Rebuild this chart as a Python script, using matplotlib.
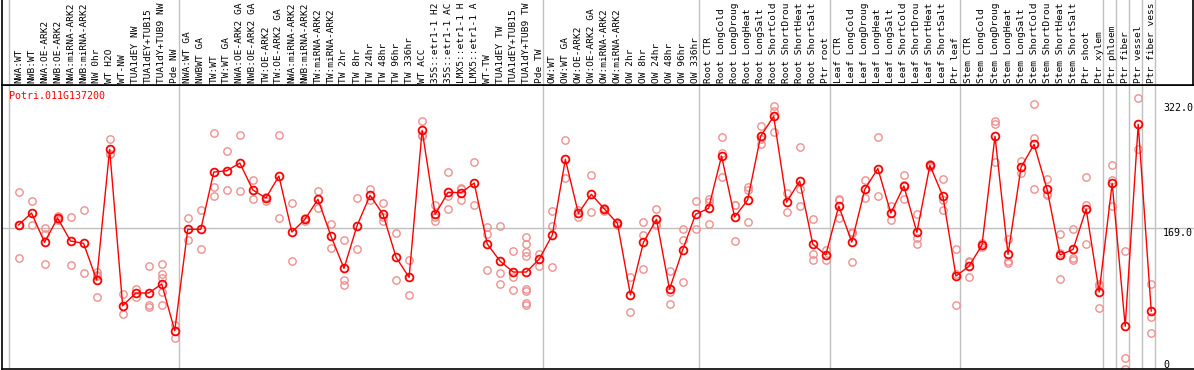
import matplotlib
matplotlib.use("Agg")
import matplotlib.pyplot as plt

gene = "Potri.011G137200"

labels = [
    "NWA:WT", "NWB:WT", "NWA:OE-ARK2", "NWB:OE-ARK2", "NWA:miRNA-ARK2", "NWB:miRNA-ARK2",
    "NW 0hr", "WT H2O", "WT-NW", "TUA1dEY NW", "TUA1dEY+TUB15", "TUA1dY+TUB9 NW", "Pde NW",
    "NWA:WT GA", "NWBWT GA", "TW:WT", "TW:WT GA", "NWA:OE-ARK2 GA", "NWB:OE-ARK2 GA",
    "TW:OE-ARK2", "TW:OE-ARK2 GA", "NWA:miRNA-ARK2", "NWB:miRNA-ARK2", "TW:miRNA-ARK2",
    "TW:miRNA-ARK2", "TW 2hr", "TW 8hr", "TW 24hr", "TW 48hr", "TW 96hr", "TW 336hr",
    "WT ACC", "35S::etr1-1 H2", "35S::etr1-1 AC", "LMX5::etr1-1 H", "LMX5::etr1-1 A",
    "WT-TW", "TUA1dEY TW", "TUA1dEY+TUB15", "TUA1dY+TUB9 TW", "Pde TW",
    "OW:WT", "OW:WT GA", "OW:OE-ARK2", "OW:OE-ARK2 GA", "OW:miRNA-ARK2", "OW:miRNA-ARK2",
    "OW 2hr", "OW 8hr", "OW 24hr", "OW 48hr", "OW 96hr", "OW 336hr",
    "Root CTR", "Root LongCold", "Root LongDroug", "Root LongHeat", "Root LongSalt",
    "Root ShortCold", "Root ShortDrou", "Root ShortHeat", "Root ShortSalt", "Ptr root",
    "Leaf CTR", "Leaf LongCold", "Leaf LongDroug", "Leaf LongHeat", "Leaf LongSalt",
    "Leaf ShortCold", "Leaf ShortDrou", "Leaf ShortHeat", "Leaf ShortSalt", "Ptr leaf",
    "Stem CTR", "Stem LongCold", "Stem LongDroug", "Stem LongHeat", "Stem LongSalt",
    "Stem ShortCold", "Stem ShortDrou", "Stem ShortHeat", "Stem ShortSalt", "Ptr shoot",
    "Ptr xylem", "Ptr phloem", "Ptr fiber", "Ptr vessel", "Ptr fiber vess",
]

means = [
    172.7, 187.3, 151.6, 181.2, 153.1, 150.3, 105.6, 265.0, 74.2, 89.7, 89.7, 100.7, 43.7,
    167.4, 167.4, 237.3, 238.9, 248.3, 215.4, 205.6, 232.4, 164.1, 179.6, 204.0, 159.2,
    119.8, 171.8, 208.9, 185.7, 133.3, 108.8, 288.2, 185.7, 212.6, 212.1, 223.9, 149.5,
    128.4, 115.3, 115.3, 131.2,
    160.5, 252.8, 186.9, 210.1, 192.2, 174.7, 87.3, 151.6, 179.6, 94.2, 141.8, 185.7,
    193.0, 256.8, 182.4, 203.2, 280.9, 305.3, 200.7, 226.3, 149.5, 136.1,
    195.8, 151.9, 216.2, 241.6, 187.3, 220.2, 163.8, 245.5, 207.7, 110.4,
    122.3, 148.3, 280.9, 136.9, 243.1, 271.1, 216.2, 136.1, 143.0, 192.2,
    90.9, 223.5, 49.1, 295.5, 67.7,
]

reps = [
    [212.6, 172.7, 132.0], [201.9, 172.7], [169.4, 161.7, 125.1], [184, 180, 179],
    [182.4, 123.9], [191.0, 114.1], [115.7, 111.7, 110, 84.4], [277.2, 258.9, 259],
    [88.5, 64.1], [94.9, 84.4], [122.6, 75.1, 72.2], [125.1, 112.9, 108.4, 91.3, 75.1],
    [50.7, 34.4],
    [180.8, 154.4], [191.0, 143.0], [284.5, 218.7, 207.7], [263.0, 215.4], [282.1, 213.8],
    [227.6, 204.4], [207.2, 202.3], [282.1, 181.2], [199.9, 128.4], [181, 178],
    [214.1, 193.0], [173.5, 144.2], [154.0, 105.6, 99.5], [205.6, 143.4], [216.6, 203.2],
    [199.1, 182.4, 177.5], [162.5, 105.6], [130.0, 87.3], [299.2, 281.6, 283],
    [197.1, 182.5, 177.5], [237.3, 208, 192.2], [218, 216.6, 203.2], [249.5, 196.7],
    [170.6, 161.7, 117.4], [171.4, 114.1, 100.7], [140.6, 109.6, 93.4],
    [158.0, 149.1, 139.4, 135.2, 94.2, 92, 77.1, 75.5], [137.3, 123.0],
    [189.7, 171.4, 121.4], [276.0, 229.6], [191.0, 182.8], [233.7, 188.2], [194, 190],
    [176, 173], [108.8, 66.1], [176.0, 160.5, 118.6], [192.2, 174, 172.7],
    [116.2, 90.5, 75.9], [167.4, 154.0, 102.7], [201.6, 168.1],
    [204.0, 201.0, 173.5], [279.7, 260.9, 230.9], [197.1, 197, 152.8], [219.4, 215.4, 176.0],
    [293.4, 278, 271.5], [317.8, 312.1, 286.5], [211.3, 188.2], [267.8, 216.6, 195.8],
    [180.0, 137.3, 130.0], [142.2, 130.0],
    [204.0, 203, 180.8], [164.5, 163, 127.5], [227.6, 206.0], [279.7, 208.0], [195.8, 178.4],
    [233.7, 222, 204.4], [186.1, 156.4, 149.5], [247.1, 245, 244], [228.4, 203.7, 191.0],
    [143.0, 113, 75.1],
    [129.1, 128, 109.2], [151.1, 145.5], [299.5, 295.5, 249.9], [155.6, 129.1, 125.9],
    [250.7, 235.7], [320.3, 278.4, 216.2], [228.4, 211, 209.3], [161.3, 138.1, 106.4],
    [167.4, 132.0, 129.6], [230.9, 197.1, 149.5],
    [100.7, 98, 71.0], [245.5, 227.6, 196.2], [140.6, 10.0, -3.4], [327.2, 265.0],
    [100.3, 60.8, 40.5],
]

# group separators sit just right of these columns
separators = [-1, 12, 40, 52, 62, 72, 83, 84, 85, 86, 87]
ref_line = 169.0
tick_vals = [322.0, 169.0, 0]
tick_text = ["322.0", "169.0", "0"]

W, H = 1194, 370
fig = plt.figure(figsize=(W / 100, H / 100), dpi=100)
mono = "DejaVu Sans Mono"

step = 13.02
x0 = 18.5


def xdata(px):
    return (px - x0) / step


# plot area
ax = fig.add_axes([2 / W, 1 / H, (W - 2) / W, 284 / H])
ax.set_xlim(xdata(2), xdata(W))
ax.set_ylim(-3.0, 343.5)
ax.spines["right"].set_visible(False)
for s in ["left", "bottom", "top"]:
    ax.spines[s].set_color("black")
    ax.spines[s].set_linewidth(1.2)
ax.set_xticks([])
ax.set_yticks([])

for s in separators:
    ax.axvline(s + 0.3, color="#c0c0c0", lw=1, zorder=0)
ax.axhline(ref_line, color="#c0c0c0", lw=1, zorder=0)

xs = list(range(len(labels)))
for i, r in enumerate(reps):
    ax.plot([i] * len(r), r, "o", ms=5.3, mfc="none", mec="#ee9090", mew=1.0,
            clip_on=True, zorder=2)
ax.plot(xs, means, "-", color="red", lw=1.0, zorder=3)
ax.plot(xs, means, "o", ms=5.6, mfc="none", mec="red", mew=1.3, zorder=4)

ax.text(xdata(9), 0.96, gene, transform=ax.get_xaxis_transform(), color="red",
        fontsize=7.2, family=mono, ha="left", va="center")

for v, t in zip(tick_vals, tick_text):
    ax.text(xdata(1163), v if v > 0 else 8, t, transform=ax.transData,
            fontsize=7.2, family=mono, ha="left", va="top", clip_on=False)

# label area
lax = fig.add_axes([2 / W, (H - 85) / H, (W - 3) / W, 85 / H])
lax.set_xlim(xdata(2), xdata(W - 1))
lax.set_ylim(0, 85)
lax.set_xticks([])
lax.set_yticks([])
lax.spines["top"].set_visible(False)
for s in ["left", "bottom", "right"]:
    lax.spines[s].set_color("black")
    lax.spines[s].set_linewidth(1.2)
for s in separators:
    lax.axvline(s + 0.3, color="#c0c0c0", lw=1, zorder=0)
for i, lab in enumerate(labels):
    lax.text(i, 2, lab, rotation=90, ha="center", va="bottom", fontsize=6.8,
             family=mono, clip_on=True)

fig.savefig("out.png", dpi=100)
